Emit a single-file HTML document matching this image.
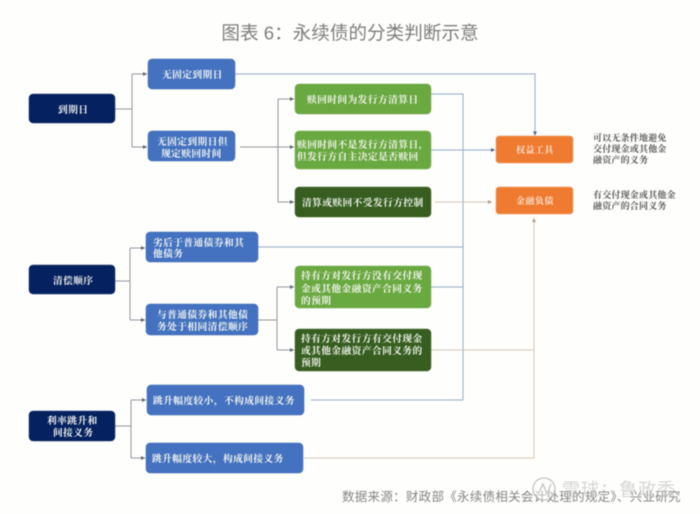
<!DOCTYPE html>
<html lang="zh">
<head>
<meta charset="utf-8">
<style>
html,body{margin:0;padding:0;background:#fefefd;}
body{width:700px;height:514px;overflow:hidden;}
svg{display:block;}
.all{filter:blur(.45px);}
.t{font-family:"Liberation Serif","Noto Serif CJK SC",serif;font-weight:700;font-size:9.7px;fill:#f6f8f2;letter-spacing:.45px;}
.d{font-family:"Liberation Serif","Noto Serif CJK SC",serif;font-weight:700;font-size:9px;fill:#555;letter-spacing:.2px;}
.s{font-family:"Liberation Sans","Noto Sans CJK SC",sans-serif;fill:#858585;}
</style>
</head>
<body>
<svg width="700" height="514" viewBox="0 0 700 514" xmlns="http://www.w3.org/2000/svg">
<defs>
<marker id="a" markerWidth="5" markerHeight="5" refX="4" refY="2.5" orient="auto"><path d="M0 .5L4 2.5L0 4.5Z" fill="#5f6670"/></marker>
<marker id="b" markerWidth="5" markerHeight="5" refX="4" refY="2.5" orient="auto"><path d="M0 .5L4 2.5L0 4.5Z" fill="#4a6488"/></marker>
<marker id="c" markerWidth="5" markerHeight="5" refX="4" refY="2.5" orient="auto"><path d="M0 .5L4 2.5L0 4.5Z" fill="#b09a84"/></marker>
</defs>
<g class="all">
<text class="s" x="350" y="39.500" text-anchor="middle" font-size="18.600" style="fill:#7d7d7d">图表 6：永续债的分类判断示意</text>

<g fill="none" stroke="#92979c" stroke-width="1">
<path d="M115 109H132"/><path d="M132 74V147"/>
<path d="M132 74H147" marker-end="url(#a)"/><path d="M132 147H147" marker-end="url(#a)"/>
<path d="M240 147H278"/><path d="M278 99V202"/>
<path d="M278 99H294" marker-end="url(#a)"/><path d="M278 147H294" marker-end="url(#a)"/><path d="M278 202H294" marker-end="url(#a)"/>
<path d="M115 281H130"/><path d="M130 248V320"/>
<path d="M130 248H145" marker-end="url(#a)"/><path d="M130 320H145" marker-end="url(#a)"/>
<path d="M258 320H277"/><path d="M277 287V350"/>
<path d="M277 287H294" marker-end="url(#a)"/><path d="M277 350H294" marker-end="url(#a)"/>
<path d="M115 426H131"/><path d="M131 400V458"/>
<path d="M131 400H146" marker-end="url(#a)"/><path d="M131 458H145" marker-end="url(#a)"/>
</g>
<g fill="none" stroke="#95aac6" stroke-width="1">
<path d="M235 74H535V135.500" marker-end="url(#b)"/>
<path d="M431 94H463V400"/>
<path d="M431 150H495" marker-end="url(#b)"/>
<path d="M258 247H463"/>
<path d="M431 287H463"/>
<path d="M311 400H463"/>
</g>
<g fill="none" stroke="#d6c6b1" stroke-width="1">
<path d="M435 202H492" marker-end="url(#c)"/>
<path d="M431 350H534"/>
<path d="M304 458H534V218" marker-end="url(#c)"/>
</g>

<g fill="#05215f" stroke="#1e3a70" stroke-width=".5">
<rect x="29" y="94" width="86" height="29" rx="4"/>
<rect x="29" y="265" width="86" height="29" rx="4"/>
<rect x="29" y="411" width="86" height="30" rx="4"/>
</g>
<g fill="#4472c0" stroke="#3c66ac" stroke-width=".5">
<rect x="148" y="59" width="87" height="30" rx="4"/>
<rect x="148" y="131" width="87" height="30" rx="4"/>
<rect x="146" y="232" width="112" height="30" rx="4"/>
<rect x="146" y="304" width="112" height="31" rx="4"/>
<rect x="147" y="385" width="157" height="30" rx="4"/>
<rect x="146" y="443" width="157" height="30" rx="4"/>
</g>
<g fill="#6aa840" stroke="#78ad52" stroke-width=".5">
<rect x="295" y="84" width="136" height="30" rx="4"/>
<rect x="295" y="131" width="136" height="38" rx="4"/>
<rect x="295" y="266" width="136" height="42" rx="4"/>
</g>
<g fill="#375e20" stroke="#46682f" stroke-width=".5">
<rect x="295" y="187" width="136" height="30" rx="4"/>
<rect x="295" y="329" width="136" height="42" rx="4"/>
</g>
<g fill="#ee7b2f" stroke="#f3a570" stroke-width=".8">
<rect x="496" y="136" width="77" height="27" rx="3"/>
<rect x="496" y="187" width="77" height="27" rx="3"/>
</g>

<text class="t" x="58" y="113">到期日</text>
<text class="t" x="53" y="284">清偿顺序</text>
<text class="t" x="47" y="424">利率跳升和</text>
<text class="t" x="53" y="436">间接义务</text>

<text class="t" x="162" y="78">无固定到期日</text>
<text class="t" x="157" y="145">无固定到期日但</text>
<text class="t" x="161" y="157">规定赎回时间</text>
<text class="t" x="153" y="246">劣后于普通债券和其</text>
<text class="t" x="153" y="257">他债务</text>
<text class="t" x="157" y="318">与普通债券和其他债</text>
<text class="t" x="157" y="330">务处于相同清偿顺序</text>
<text class="t" x="153" y="404">跳升幅度较小，不构成间接义务</text>
<text class="t" x="152" y="462">跳升幅度较大，构成间接义务</text>

<text class="t" x="307" y="103">赎回时间为发行方清算日</text>
<text class="t" x="297" y="148">赎回时间不是发行方清算日，</text>
<text class="t" x="297" y="160">但发行方自主决定是否赎回</text>
<text class="t" x="302" y="206">清算或赎回不受发行方控制</text>
<text class="t" x="301" y="279">持有方对发行方没有交付现</text>
<text class="t" x="301" y="292">金或其他金融资产合同义务</text>
<text class="t" x="301" y="304">的预期</text>
<text class="t" x="301" y="342">持有方对发行方有交付现金</text>
<text class="t" x="301" y="354">或其他金融资产合同义务的</text>
<text class="t" x="301" y="366">预期</text>

<text class="t" x="516" y="153" style="font-size:9px;fill:#fbe3d2">权益工具</text>
<text class="t" x="516" y="204" style="font-size:9px;fill:#fbe3d2">金融负债</text>

<text class="d" x="593" y="141">可以无条件地避免</text>
<text class="d" x="593" y="152">交付现金或其他金</text>
<text class="d" x="593" y="163">融资产的义务</text>
<text class="d" x="593" y="198">有交付现金或其他金</text>
<text class="d" x="593" y="209">融资产的合同义务</text>

<text class="s" x="342" y="501" font-size="12.500" style="letter-spacing:.28px">数据来源：财政部《永续债相关会计处理的规定》、兴业研究</text>

<g opacity=".7">
<circle cx="544" cy="489" r="11" fill="#fff" fill-opacity=".6" stroke="#aaa" stroke-width="1.300"/>
<path d="M538 494L543 484L547 494L551 484" fill="none" stroke="#aaa" stroke-width="1.300"/>
<text class="s" x="562" y="496" font-size="18" style="fill:#c4c4c4;letter-spacing:1px">雪球：鲁政委</text>
</g>
</g>
</svg>
</body>
</html>
